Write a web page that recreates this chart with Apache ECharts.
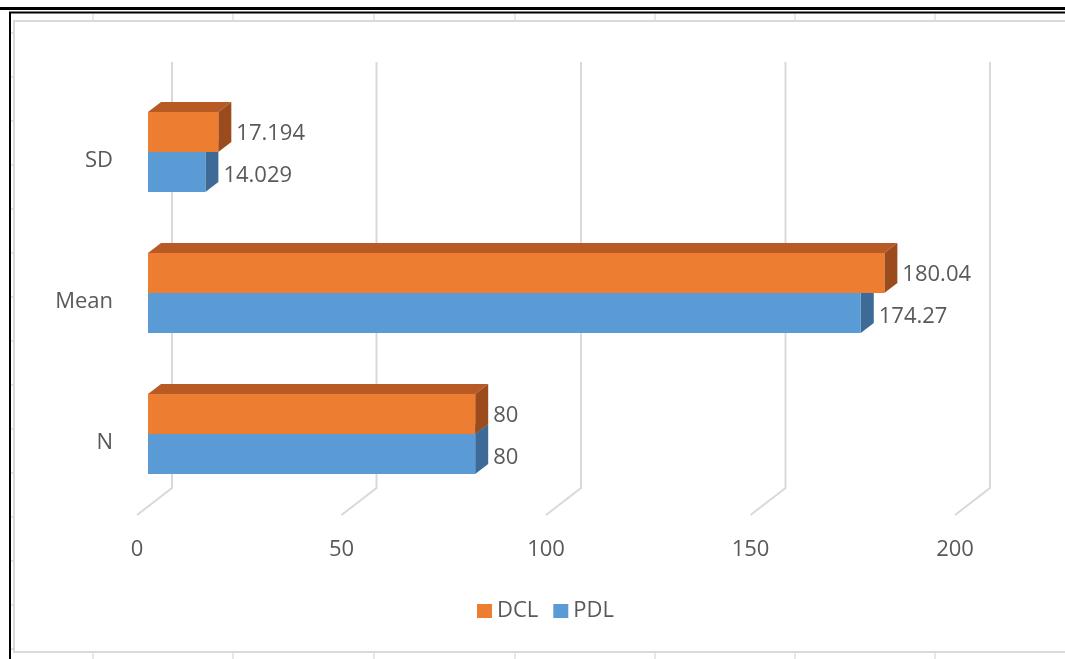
<!DOCTYPE html>
<html>
<head>
<meta charset="utf-8">
<script src="https://cdn.jsdelivr.net/npm/echarts@6/dist/echarts.min.js"></script>
<style>
html,body{margin:0;padding:0;background:#fff;}
#main{width:1065px;height:659px;}
</style>
</head>
<body>
<div id="main"></div>
<script>
// ---- data ----
const categories = ['N', 'Mean', 'SD'];
const dclValues = [80, 180.04, 17.194];
const pdlValues = [80, 174.27, 14.029];
const dclLabels = ['80', '180.04', '17.194'];
const pdlLabels = ['80', '174.27', '14.029'];
const xTicks = [0, 50, 100, 150, 200];
const seriesNames = ['DCL', 'PDL'];

// ---- styling ----
const FONT = '"Open Sans", "Noto Sans", sans-serif';
const TXT = '#595959';
const GRID_C = '#D9D9D9';
const DX = 13, DY = -10;

function barRender(upper, front, top, side, labels, labelShift) {
  return function (params, api) {
    const v = api.value(0), ci = api.value(1);
    const s = api.coord([0, ci]);
    const e = api.coord([v, ci]);
    const band = api.size([0, 1])[1];
    const h = band * 0.284;
    const yc = s[1];
    const y0 = upper ? yc - h : yc;
    const x0 = s[0], x1 = e[0];
    return {
      type: 'group',
      children: [
        { type: 'polygon', shape: { points: [[x0, y0], [x0 + DX, y0 + DY], [x1 + DX, y0 + DY], [x1, y0]] }, style: { fill: top } },
        { type: 'polygon', shape: { points: [[x1, y0], [x1 + DX, y0 + DY], [x1 + DX, y0 + h + DY], [x1, y0 + h]] }, style: { fill: side } },
        { type: 'rect', shape: { x: x0, y: y0, width: x1 - x0, height: h }, style: { fill: front } },
        { type: 'text', x: x1 + DX + 5, y: y0 + h / 2 + labelShift,
          style: { text: labels[params.dataIndex], fill: TXT, font: '22px ' + FONT, textVerticalAlign: 'middle', textAlign: 'left', verticalAlign: 'middle', align: 'left' } }
      ]
    };
  };
}

function gridRender(params, api) {
  const p = api.coord([api.value(0), 0]);
  const cs = params.coordSys;
  const bx = p[0] + 24;
  const topY = cs.y - 19.5;
  const bendY = cs.y + cs.height - 16.5;
  const fx = p[0] - 11;
  const fy = cs.y + cs.height + 10.5;
  return {
    type: 'polyline',
    shape: { points: [[bx, topY], [bx, bendY], [fx, fy]] },
    style: { stroke: GRID_C, lineWidth: 2, fill: null }
  };
}

const chart = echarts.init(document.getElementById('main'));
const pageTicksX = [93, 233, 374, 515, 655, 795, 935];
const deco = [];
// chart area border
deco.push({ type: 'rect', shape: { x: 14, y: 21, width: 1070, height: 631 }, style: { fill: '#fff', stroke: '#D9D9D9', lineWidth: 2 }, z: -10 });
// page table lines
deco.push({ type: 'line', shape: { x1: 0, y1: 8.5, x2: 1065, y2: 8.5 }, style: { stroke: '#000', lineWidth: 3 } });
deco.push({ type: 'line', shape: { x1: 9, y1: 12.5, x2: 1065, y2: 12.5 }, style: { stroke: '#000', lineWidth: 2 } });
deco.push({ type: 'line', shape: { x1: 10, y1: 12, x2: 10, y2: 659 }, style: { stroke: '#000', lineWidth: 2 } });
pageTicksX.forEach(x => {
  deco.push({ type: 'line', shape: { x1: x, y1: 14, x2: x, y2: 20 }, style: { stroke: '#D0D0D0', lineWidth: 1 } });
  deco.push({ type: 'line', shape: { x1: x, y1: 653, x2: x, y2: 659 }, style: { stroke: '#D0D0D0', lineWidth: 1 } });
});
for (let y = 33; y < 650; y += 44) {
  deco.push({ type: 'line', shape: { x1: 11, y1: y, x2: 14, y2: y }, style: { stroke: '#C8C8C8', lineWidth: 1 } });
}

chart.setOption({
  animation: false,
  backgroundColor: '#fff',
  textStyle: { fontFamily: FONT },
  graphic: deco,
  grid: { left: 148, width: 818, top: 81.5, height: 423 },
  xAxis: {
    type: 'value', min: 0, max: 200, interval: 50,
    axisLine: { show: false }, axisTick: { show: false }, splitLine: { show: false },
    axisLabel: { color: TXT, fontSize: 22, fontFamily: FONT, margin: 34, padding: [0, 22, 0, 0] }
  },
  yAxis: {
    type: 'category', data: categories,
    axisLine: { show: false }, axisTick: { show: false }, splitLine: { show: false },
    axisLabel: {
      color: TXT, fontSize: 22, fontFamily: FONT, margin: 35,
      formatter: '{a|{value}}',
      rich: { a: { color: TXT, fontSize: 22, fontFamily: FONT, padding: [18, 0, 0, 0] } }
    }
  },
  legend: {
    data: seriesNames,
    left: 472, top: 595,
    icon: 'rect', itemWidth: 15, itemHeight: 14, itemGap: 15,
    textStyle: { color: TXT, fontSize: 22, fontFamily: FONT }
  },
  series: [
    { type: 'custom', name: 'grid', silent: true, renderItem: gridRender, data: xTicks.map(t => [t, 0]), encode: { x: 0, y: 1 }, z: 1 },
    { type: 'custom', name: 'PDL', renderItem: barRender(false, '#5B9BD5', '#4A7FB0', '#3D6A96', pdlLabels, 4), itemStyle: { color: '#5B9BD5' },
      data: pdlValues.map((v, i) => [v, i]), encode: { x: 0, y: 1 }, z: 2 },
    { type: 'custom', name: 'DCL', renderItem: barRender(true, '#ED7D31', '#B85A24', '#9C4B1C', dclLabels, 2), itemStyle: { color: '#ED7D31' },
      data: dclValues.map((v, i) => [v, i]), encode: { x: 0, y: 1 }, z: 3 }
  ]
});
</script>
</body>
</html>
